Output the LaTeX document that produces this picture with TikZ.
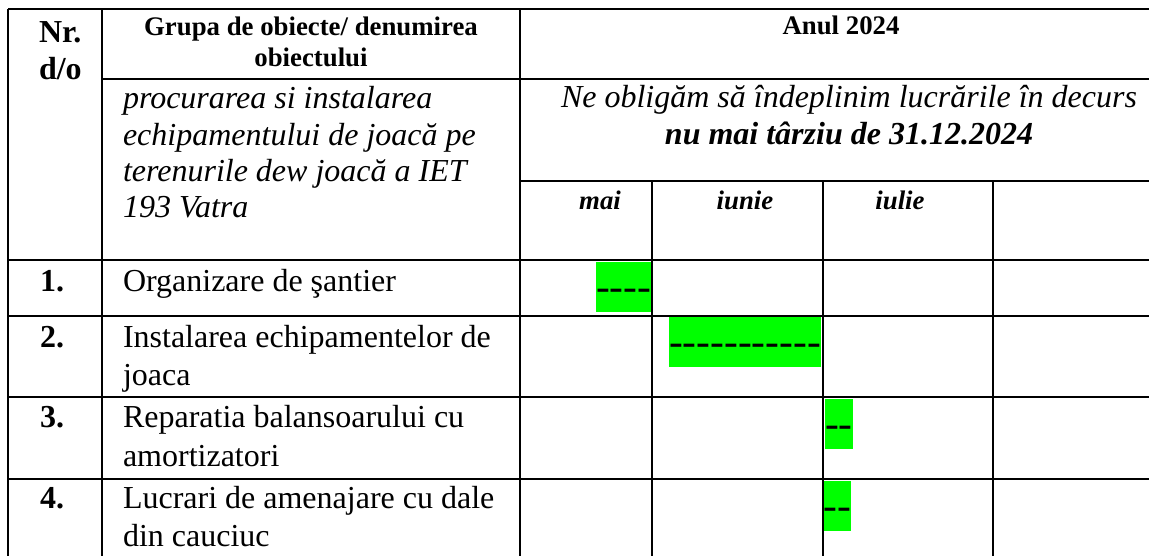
\documentclass[tikz,border=0pt]{standalone}
\usepackage{fontspec}
\setmainfont{Liberation Serif}
\newfontfamily\dashfont{Liberation Serif}
\definecolor{hl}{HTML}{00FF00}
\newcommand{\hy}{-\kern0pt}
\tikzset{
  grid/.style={line width=1.8pt, draw=black},
  txt/.style={inner sep=0pt, outer sep=0pt, anchor=base west},
  ctxt/.style={inner sep=0pt, outer sep=0pt, anchor=base},
  bar/.style={inner sep=0pt, outer sep=0pt, anchor=base west, fill=hl,
    text height=38.4pt, text depth=11.6pt, font=\dashfont\fontsize{41.5}{45}\selectfont}
}
\begin{document}
\begin{tikzpicture}[x=1pt,y=-1pt]
\useasboundingbox (0,0) rectangle (1149,556);
% highlight bars with dashes
\node[bar] (b1) at (596,300.3) {\hy\hy\hy\hy};
\node[bar] (b2) at (669,355.6) {\hy\hy\hy\hy\hy\hy\hy\hy\hy\hy\hy};
\node[bar] (b3) at (825,437.3) {\hy\hy};
\node[bar] (b4) at (823.5,519.3) {\hy\hy};
% grid lines
\draw[grid] (8,9) -- (1152,9);
\draw[grid] (102,79) -- (1152,79);
\draw[grid] (520,181) -- (1152,181);
\foreach \yy in {260,316,397,479} { \draw[grid] (8,\yy) -- (1152,\yy); }
\foreach \xx in {8,102,520} { \draw[grid] (\xx,9) -- (\xx,560); }
\foreach \xx in {652,823,993} { \draw[grid] (\xx,181) -- (\xx,560); }
% header texts
\node[txt] (nr) at (39,43) {\parbox[t]{60pt}{\fontsize{32}{37}\selectfont\bfseries Nr.\\d/o}};
\node[ctxt] (grupa) at (311,36) {\parbox[t]{410pt}{\centering\fontsize{26.8}{31}\selectfont\bfseries Grupa de obiecte/ denumirea\\obiectului}};
\node[txt] (obj) at (123,109) {\parbox[t]{395pt}{\raggedright\fontsize{32}{36.3}\selectfont\itshape procurarea si instalarea\\echipamentului de joacă pe\\terenurile dew joacă a IET\\193 Vatra}};
\node[ctxt] (anul) at (841,35) {\fontsize{26.8}{31}\selectfont\bfseries Anul 2024};
\node[ctxt] (oblig) at (849,108) {\parbox[t]{640pt}{\centering\fontsize{32}{37}\selectfont\itshape Ne obligăm să îndeplinim lucrările în decurs\\\bfseries nu mai târziu de 31.12.2024}};
\node[ctxt] (mai) at (600,210) {\fontsize{26.8}{31}\selectfont\bfseries\itshape mai};
\node[ctxt] (iunie) at (745,210) {\fontsize{26.8}{31}\selectfont\bfseries\itshape iunie};
\node[ctxt] (iulie) at (900,210) {\fontsize{26.8}{31}\selectfont\bfseries\itshape iulie};
% rows
\node[txt] (n1) at (40,291) {\fontsize{32}{39}\selectfont\bfseries 1.};
\node[txt] (n2) at (40,347) {\fontsize{32}{39}\selectfont\bfseries 2.};
\node[txt] (n3) at (40,427) {\fontsize{32}{39}\selectfont\bfseries 3.};
\node[txt] (n4) at (40,508) {\fontsize{32}{39}\selectfont\bfseries 4.};
\node[txt] (r1) at (123,291) {\parbox[t]{395pt}{\raggedright\fontsize{32}{39}\selectfont Organizare de şantier}};
\node[txt] (r2) at (123,347) {\parbox[t]{395pt}{\raggedright\fontsize{32}{38.5}\selectfont Instalarea echipamentelor de\\joaca}};
\node[txt] (r3) at (123,427) {\parbox[t]{395pt}{\raggedright\fontsize{32}{39.5}\selectfont Reparatia balansoarului cu\\amortizatori}};
\node[txt] (r4) at (123,508) {\parbox[t]{395pt}{\raggedright\fontsize{32}{38.7}\selectfont Lucrari de amenajare cu dale\\din cauciuc}};
\end{tikzpicture}
\end{document}
